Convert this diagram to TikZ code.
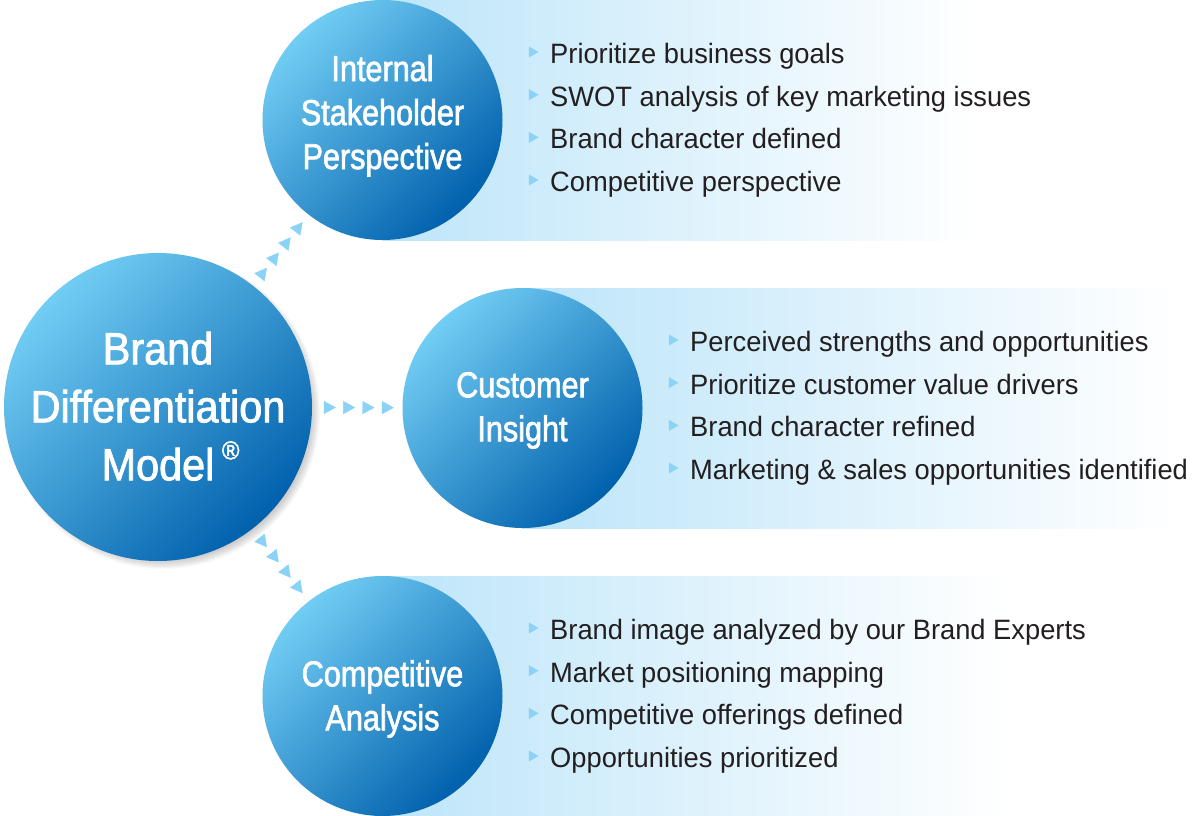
\documentclass[tikz,border=0pt]{standalone}
\usepackage{fontspec}
\setmainfont{Liberation Sans}
\newfontfamily\listfont[FakeStretch=0.975]{Liberation Sans}
\newfontfamily\ballfont[FakeStretch=0.85,FakeBold=1.8]{Liberation Sans}
\newfontfamily\hubfont[FakeStretch=0.92,FakeBold=1.8]{Liberation Sans}
\usetikzlibrary{calc,shapes.geometric,decorations.markings,arrows.meta}
\definecolor{ballA}{HTML}{72CDF4}
\definecolor{ballB}{HTML}{0060AC}
\definecolor{panelA}{HTML}{BDE5F9}
\definecolor{tipblue}{HTML}{8AD3F7}
\definecolor{ink}{HTML}{231F20}
\pgfdeclarehorizontalshading{ballgrad}{100bp}{color(0bp)=(ballA); color(25bp)=(ballA); color(75bp)=(ballB); color(100bp)=(ballB)}
\tikzset{
  ball/.style={circle,inner sep=0pt,minimum size=240pt,shading=ballgrad,shading angle=-45,text=white,align=center,
    font=\ballfont\fontsize{36}{44}\selectfont},
  hubball/.style={ball,minimum size=308pt,font=\hubfont\fontsize{45}{58}\selectfont},
  panel/.style={left color=panelA,right color=white,draw=none},
  bullet/.style={regular polygon,regular polygon sides=3,shape border rotate=-90,minimum size=13pt,inner sep=0pt,fill=tipblue},
  item/.style={anchor=base west,inner sep=0pt,text=ink,font=\listfont\fontsize{28}{34}\selectfont},
  tipmark/.style={decoration={markings,
     mark=at position #1+0.000 with {\arrow[tipblue]{Triangle[length=12pt,width=13pt]}},
     mark=at position #1+0.053 with {\arrow[tipblue]{Triangle[length=12pt,width=13pt]}},
     mark=at position #1+0.106 with {\arrow[tipblue]{Triangle[length=12pt,width=13pt]}},
     mark=at position #1+0.159 with {\arrow[tipblue]{Triangle[length=12pt,width=13pt]}}},
     postaction={decorate}},
}
\begin{document}
\begin{tikzpicture}[x=1pt,y=-1pt]
\useasboundingbox (0,0) rectangle (1200,816);
% panels
\fill[panel] (382,0) rectangle (980,240);
\fill[panel] (522,288) rectangle (1180,528);
\fill[panel] (382,576) rectangle (1010,816);
% hub shadow
\foreach \r in {146,147,...,157}{\fill[black,opacity=0.022] (163,412) circle[radius=\r];}
% balls
\node[hubball] (hub) at (158,407) {Brand\\Differentiation\\Model\rlap{\,\raisebox{21pt}{\fontsize{26}{26}\selectfont ®}}\rule[-2pt]{0pt}{0pt}};
\node[ball] (int) at (382.5,120) {Internal\\Stakeholder\\Perspective\rule[-16pt]{0pt}{0pt}};
\node[ball] (cust) at (522.5,408) {\rule{0pt}{30pt}Customer\\Insight};
\node[ball] (comp) at (382.5,696) {\rule{0pt}{32pt}Competitive\\Analysis};
% connectors
\path[tipmark=0.485] (hub.center) -- (int.center);
\path[tipmark=0.488] (hub.center) -- (cust.center);
\path[tipmark=0.485] (hub.center) -- (comp.center);
% lists
\foreach \i/\y/\t in {1/63.5/Prioritize business goals,2/106.2/SWOT analysis of key marketing issues,3/148.9/Brand character defined,4/191.5/Competitive perspective}{
  \node[bullet] (ab\i) at (532,\y-11.5) {};
  \node[item] (a\i) at (550,\y) {\t};}
\foreach \i/\y/\t in {1/351.5/Perceived strengths and opportunities,2/394.2/Prioritize customer value drivers,3/436.9/Brand character refined,4/479.5/Marketing \& sales opportunities identified}{
  \node[bullet] (bb\i) at (672,\y-11.5) {};
  \node[item] (b\i) at (690,\y) {\t};}
\foreach \i/\y/\t in {1/639.5/Brand image analyzed by our Brand Experts,2/682.2/Market positioning mapping,3/724.9/Competitive offerings defined,4/767.5/Opportunities prioritized}{
  \node[bullet] (cb\i) at (532,\y-11.5) {};
  \node[item] (c\i) at (550,\y) {\t};}
\end{tikzpicture}
\end{document}
